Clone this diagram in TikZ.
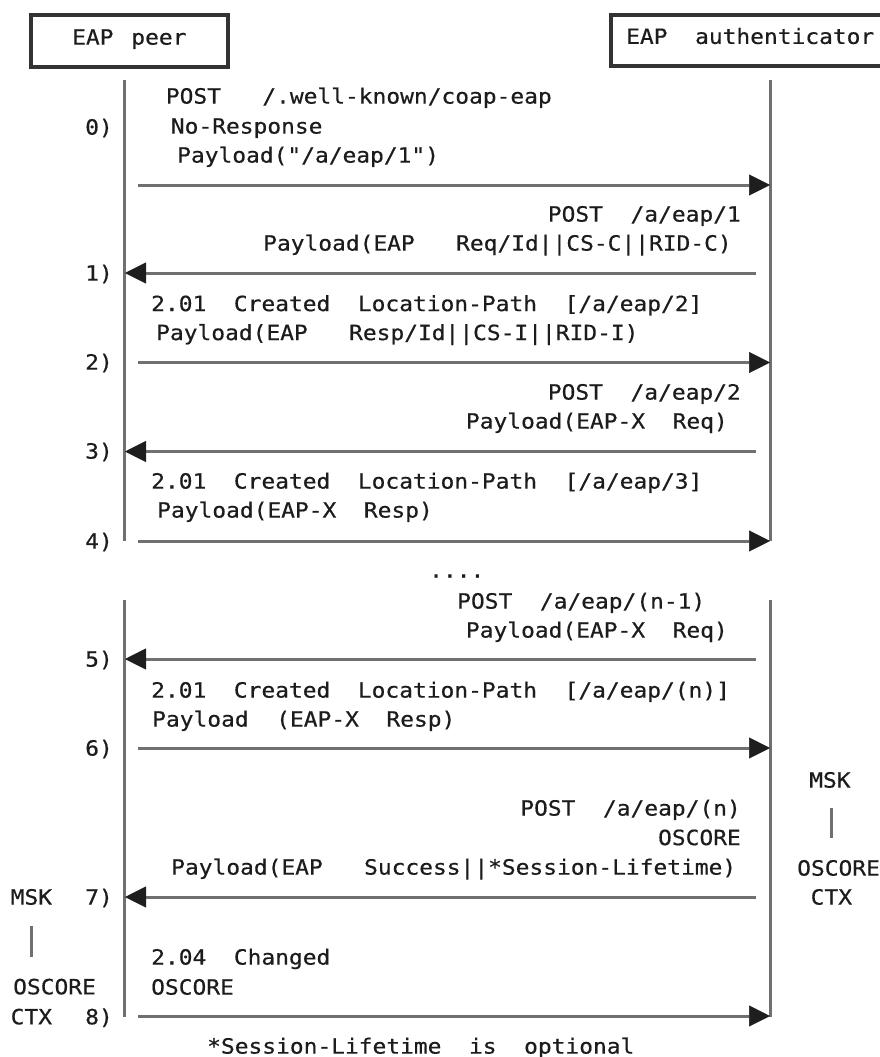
\documentclass[tikz,border=0pt]{standalone}
\usepackage{fontspec}
\newfontfamily\mono[FakeStretch=1.09,FakeBold=0.5]{DejaVu Sans Mono}
\usetikzlibrary{arrows.meta}
\definecolor{linegray}{HTML}{707070}
\definecolor{tipblack}{HTML}{1E1E1E}
\definecolor{boxgray}{HTML}{333333}
\definecolor{txt}{HTML}{1C1C1C}
\begin{document}
\begin{tikzpicture}[x=1pt,y=-1pt,
  lbl/.style={font=\mono\fontsize{21}{25}\selectfont, text=txt, inner sep=0pt, anchor=base west},
  rlbl/.style={lbl, anchor=base east},
  life/.style={draw=linegray, line width=3pt},
  bar/.style={draw=linegray, line width=3pt},
  msg/.style={draw=linegray, line width=3pt, -{Triangle[length=21pt,width=21pt,line width=0.5pt,color=tipblack]}},
  actor/.style={draw=boxgray, line width=4pt, inner sep=0pt}]
\useasboundingbox (0,0) rectangle (880,1057);

% actors
\node[actor, minimum width=196.7pt, minimum height=52pt] (peerbox) at (129.7,41.3) {};
\node[lbl] (peer) at (72,44.6) {EAP\kern4pt~peer};
\node[actor, anchor=west, minimum width=290pt, minimum height=51pt] (authbox) at (609.3,40.2) {};
\node[lbl] (auth) at (626,43.9) {EAP~~authenticator};

% lifelines
\coordinate (pT) at (124,80);  \coordinate (pB) at (124,541);
\coordinate (pT2) at (124,600); \coordinate (pB2) at (124,1017);
\coordinate (aT) at (770,80);  \coordinate (aB) at (770,541);
\coordinate (aT2) at (770,600); \coordinate (aB2) at (770,1017);
\draw[life] (pT) -- (pB);
\draw[life] (pT2) -- (pB2);
\draw[life] (aT) -- (aB);
\draw[life] (aT2) -- (aB2);

% message end points
\foreach \n/\y in {0/185,1/273,2/362.5,3/451.5,4/541,5/659,6/748,7/897,8/1016}{
  \coordinate (ps\n) at (138,\y);
  \coordinate (pe\n) at (125,\y);
  \coordinate (as\n) at (755.7,\y);
  \coordinate (ae\n) at (770,\y);
}
\draw[msg] (ps0) -- (ae0);
\draw[msg] (as1) -- (pe1);
\draw[msg] (ps2) -- (ae2);
\draw[msg] (as3) -- (pe3);
\draw[msg] (ps4) -- (ae4);
\draw[msg] (as5) -- (pe5);
\draw[msg] (ps6) -- (ae6);
\draw[msg] (as7) -- (pe7);
\draw[msg] (ps8) -- (ae8);

% step numbers
\node[rlbl] (n0) at (113,134.6) {0)};
\node[rlbl] (n1) at (113,280.6) {1)};
\node[rlbl] (n2) at (113,369.6) {2)};
\node[rlbl] (n3) at (113,458.6) {3)};
\node[rlbl] (n4) at (113,548.6) {4)};
\node[rlbl] (n5) at (113,666.6) {5)};
\node[rlbl] (n6) at (113,755.6) {6)};
\node[rlbl] (n7) at (113,904.6) {7)};
\node[rlbl] (n8) at (113,1024.3) {8)};

% message 0
\node[lbl] (m0a) at (165.7,103.6) {POST~~~/.well-known/coap-eap};
\node[lbl] (m0b) at (170.7,133.6) {No-Response};
\node[lbl] (m0c) at (177,162.6) {Payload("/a/eap/1")};
% message 1
\node[rlbl] (m1a) at (741,221.6) {POST~~/a/eap/1};
\node[lbl] (m1b) at (263,250.6) {Payload(EAP~~~Req/Id||CS-C||RID-C)};
% message 2
\node[lbl] (m2a) at (151,311.1) {2.01~~Created~~Location-Path~~[/a/eap/2]};
\node[lbl] (m2b) at (156,340.1) {Payload(EAP~~~Resp/Id||CS-I||RID-I)};
% message 3
\node[rlbl] (m3a) at (741,399.6) {POST~~/a/eap/2};
\node[rlbl] (m3b) at (728,428.6) {Payload(EAP-X~~Req)};
% message 4
\node[lbl] (m4a) at (151,488.6) {2.01~~Created~~Location-Path~~[/a/eap/3]};
\node[lbl] (m4b) at (157,517.6) {Payload(EAP-X~~Resp)};
% gap
\node[lbl] (dots) at (429,577.5) {....};
% message 5
\node[lbl] (m5a) at (457,608.6) {POST~~/a/eap/(n-1)};
\node[rlbl] (m5b) at (728,637.6) {Payload(EAP-X~~Req)};
% message 6
\node[lbl] (m6a) at (151,697.6) {2.01~~Created~~Location-Path~~[/a/eap/(n)]};
\node[lbl] (m6b) at (152,726.6) {Payload~~(EAP-X~~Resp)};
% message 7
\node[rlbl] (m7a) at (741,815.6) {POST~~/a/eap/(n)};
\node[rlbl] (m7b) at (741,845.1) {OSCORE};
\node[lbl] (m7c) at (171,874.6) {Payload(EAP~~~Success||*Session-Lifetime)};
% message 8
\node[lbl] (m8a) at (151,964.6) {2.04~~Changed};
\node[lbl] (m8b) at (151,994.6) {OSCORE};
% footnote
\node[lbl] (note) at (207,1053.6) {*Session-Lifetime~~is~~optional};

% authenticator side keys
\node[lbl] (amsk) at (809,787.6) {MSK};
\coordinate (ab1) at (831.7,808); \coordinate (ab2) at (831.7,838);
\draw[bar] (ab1) -- (ab2);
\node[lbl] (aosc) at (797,875.6) {OSCORE};
\node[lbl] (actx) at (810.5,904.6) {CTX};

% peer side keys
\node[lbl] (pmsk) at (10.5,904.6) {MSK};
\coordinate (pb1) at (31.7,926); \coordinate (pb2) at (31.7,957);
\draw[bar] (pb1) -- (pb2);
\node[lbl] (posc) at (13,994.3) {OSCORE};
\node[lbl] (pctx) at (10.5,1024.3) {CTX};
\end{tikzpicture}
\end{document}
